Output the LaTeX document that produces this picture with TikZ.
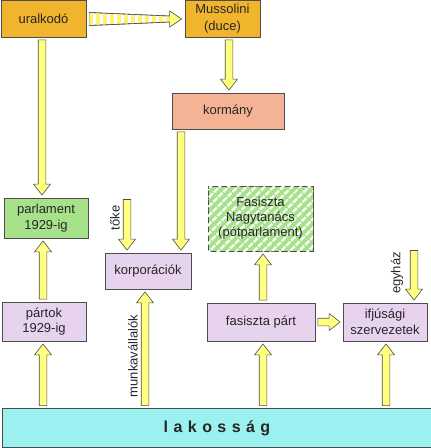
\documentclass[tikz,border=0pt]{standalone}
\usepackage{fontspec}
\setmainfont{Liberation Sans}
\newfontfamily\spacedfont[LetterSpace=34]{Liberation Sans}
\usetikzlibrary{calc,patterns.meta}

\definecolor{goldbox}{HTML}{F0B52C}
\definecolor{salmonbox}{HTML}{F3B394}
\definecolor{greenbox}{HTML}{A7E28B}
\definecolor{lilacbox}{HTML}{E8D3EE}
\definecolor{cyanbox}{HTML}{9AF1EF}
\definecolor{arrowyellow}{HTML}{FFFF80}
\definecolor{edgegray}{HTML}{4D4D4D}

% block arrow between two points
\newcommand{\blkw}{3.8pt}
\newcommand{\blkh}{8.5pt}
\newcommand{\blkl}{11pt}
\newcommand{\blk}[2]{%
  \path ($(#1)!2.5pt!(#2)$) coordinate (bs) ($(#2)!2.5pt!(#1)$) coordinate (bt);
  \path ($(bt)!\blkl!(bs)$) coordinate (bb);
  \filldraw[arr] ($(bs)!\blkw!90:(bt)$) -- ($(bb)!\blkw!90:(bt)$) -- ($(bb)!\blkh!90:(bt)$) -- (bt)
    -- ($(bb)!\blkh!-90:(bt)$) -- ($(bb)!\blkw!-90:(bt)$) -- ($(bs)!\blkw!-90:(bt)$) -- cycle;}

\begin{document}
\begin{tikzpicture}[x=1pt,y=-1pt,
  box/.style={draw=edgegray, line width=0.8pt, inner sep=1pt, align=center, text=black!85, font=\fontsize{13}{15.5}\selectfont},
  lbl/.style={rotate=90, inner sep=0pt, text=black!85, font=\fontsize{13}{15.5}\selectfont},
  arr/.style={fill=arrowyellow, draw=edgegray, line width=0.6pt, line join=round}
]
\useasboundingbox (0,0) rectangle (431,448);

\node[box, fill=goldbox, minimum width=85pt, minimum height=37pt] (uralkodo) at (43.5,18.5) {uralkodó};
\node[box, fill=goldbox, minimum width=75pt, minimum height=37pt, font=\fontsize{13}{17}\selectfont] (mussolini) at (222.5,18.5) {Mussolini\\(duce)};
\node[box, fill=salmonbox, minimum width=112pt, minimum height=36pt] (kormany) at (228,111) {kormány};
\node[box, fill=greenbox, minimum width=84pt, minimum height=40pt] (parlament) at (46,218) {parlament\\1929-ig};
\node[box, fill=greenbox, minimum width=105pt, minimum height=65pt,
  postaction={pattern={Lines[angle=45,distance=6.5pt,line width=2.6pt]}, pattern color=white}] (nagytanacs) at (260.5,218.5) {};
\node[font=\fontsize{13}{15}\selectfont, align=center, text=black!85] at (nagytanacs) {Fasiszta\\Nagytanács\\(pótparlament)};
\node[box, fill=lilacbox, minimum width=86pt, minimum height=36pt] (korporaciok) at (148,271) {korporációk};
\node[box, fill=lilacbox, minimum width=84pt, minimum height=39pt] (partok) at (44,321.5) {pártok\\1929-ig};
\node[box, fill=lilacbox, minimum width=108pt, minimum height=38pt] (fasisztapart) at (261,322) {fasiszta párt};
\node[box, fill=lilacbox, minimum width=84pt, minimum height=38pt] (ifjusagi) at (385,322) {ifjúsági\\szervezetek};
\node[box, fill=cyanbox, minimum width=430pt, minimum height=39pt,
  font=\spacedfont\bfseries\fontsize{16}{18}\selectfont] (lakossag) at (217,428) {lakosság};

\node[lbl] (toke) at (115,218) {tőke};
\node[lbl] (munkavallalok) at (133,356) {munkavállalók};
\node[lbl] (egyhaz) at (397,273) {egyház};
\coordinate (tokein) at (127,197);
\coordinate (egyhazin) at (414,248);

% striped arrow uralkodo -> mussolini
\path ($(uralkodo.east)+(3,0.5)$) coordinate (us) ($(mussolini.west)+(-3,0.5)$) coordinate (mt);
\filldraw[fill=white, draw=edgegray, line width=0.6pt,
  postaction={pattern={Lines[angle=90,distance=7pt,line width=4pt]}, pattern color=arrowyellow!90!orange}]
  ($(us)+(0,-6.5)$) -- ($(mt)+(-12,-3)$) -- ($(mt)+(-12,3)$) -- ($(us)+(0,6.5)$) -- cycle;
\draw[edgegray, line width=0.6pt] ($(us)+(0,-6.5)$) -- ($(mt)+(-12,-3)$) ($(mt)+(-12,3)$) -- ($(us)+(0,6.5)$);
\filldraw[arr] ($(mt)+(-12,-3)$) -- ($(mt)+(-12,-8)$) -- (mt) -- ($(mt)+(-12,8)$) -- ($(mt)+(-12,3)$);

\blk{42,0 |- uralkodo.south}{42,0 |- parlament.north}
\blk{229,0 |- mussolini.south}{229,0 |- kormany.north}
\blk{181,0 |- kormany.south}{181,0 |- korporaciok.north}
\blk{tokein}{tokein |- korporaciok.north}
\blk{43,0 |- partok.north}{43,0 |- parlament.south}
\blk{43,0 |- lakossag.north}{43,0 |- partok.south}
\blk{145,0 |- lakossag.north}{145,0 |- korporaciok.south}
\blk{263,0 |- lakossag.north}{263,0 |- fasisztapart.south}
\blk{263,0 |- fasisztapart.north}{263,0 |- nagytanacs.south}
\blk{fasisztapart.east}{ifjusagi.west}
\blk{egyhazin}{egyhazin |- ifjusagi.north}
\blk{386,0 |- lakossag.north}{386,0 |- ifjusagi.south}
\end{tikzpicture}
\end{document}
